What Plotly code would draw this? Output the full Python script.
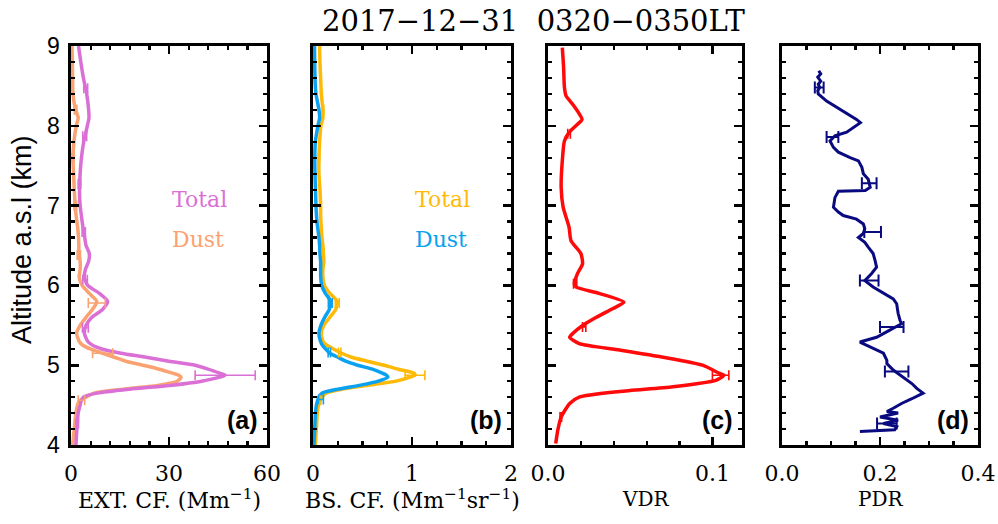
import plotly.graph_objects as go

W, H = 998, 524

# ---------------- data ----------------
alt_ab = [4.0, 4.2, 4.4, 4.5, 4.55, 4.6, 4.65, 4.7, 4.75, 4.8,
          4.85, 4.875, 4.9, 4.95, 5.0, 5.05, 5.1, 5.15, 5.2, 5.25,
          5.3, 5.4, 5.5, 5.6, 5.7, 5.8, 5.9, 6.0, 6.1, 6.2,
          6.3, 6.4, 6.5, 6.6, 6.7, 6.8, 6.9, 7.0, 7.2, 7.4,
          7.6, 7.8, 8.0, 8.1, 8.2, 8.4, 8.6, 8.8, 9.0]
ext_total = [1.5, 1.8, 2.2, 2.8, 3.1, 3.8, 8.0, 18.0, 31.0, 40.0,
             45.5, 47.2, 45.5, 42.0, 38.0, 30.0, 23.0, 15.3, 9.7, 6.6,
             5.1, 4.1, 4.6, 6.4, 9.7, 11.2, 8.7, 5.1, 4.1, 4.4,
             5.4, 5.6, 4.6, 4.2, 3.8, 3.4, 3.1, 2.8, 2.6, 2.8,
             3.2, 3.9, 5.0, 5.5, 5.4, 4.8, 3.8, 3.0, 2.3]
ext_dust = [0.5, 1.0, 1.5, 2.0, 2.5, 4.6, 7.0, 16.0, 27.0, 32.5,
            33.7, 33.0, 31.1, 27.0, 22.0, 16.8, 13.3, 9.7, 6.1, 3.6,
            2.5, 1.7, 2.8, 4.6, 6.6, 7.9, 5.6, 3.4, 2.5, 2.8,
            2.8, 2.4, 2.4, 2.3, 2.1, 1.8, 1.5, 1.3, 1.0, 0.8,
            0.6, 0.9, 1.6, 2.2, 1.4, 0.6, 0.5, 0.4, 0.3]
bs_total = [0.024, 0.034, 0.044, 0.055, 0.067, 0.09, 0.13, 0.3, 0.56, 0.84,
            0.98, 1.03, 1.02, 0.86, 0.72, 0.55, 0.39, 0.29, 0.21, 0.14,
            0.1, 0.084, 0.11, 0.17, 0.23, 0.245, 0.17, 0.115, 0.1, 0.1,
            0.11, 0.105, 0.1, 0.09, 0.085, 0.08, 0.077, 0.077, 0.07, 0.06,
            0.06, 0.067, 0.08, 0.1, 0.1, 0.084, 0.077, 0.07, 0.067]
bs_dust = [0.01, 0.017, 0.025, 0.034, 0.045, 0.06, 0.09, 0.25, 0.48, 0.66,
           0.757, 0.74, 0.7, 0.6, 0.45, 0.33, 0.25, 0.17, 0.13, 0.095,
           0.075, 0.06, 0.08, 0.118, 0.165, 0.18, 0.125, 0.088, 0.078, 0.077,
           0.077, 0.07, 0.067, 0.06, 0.05, 0.04, 0.034, 0.03, 0.025, 0.02,
           0.018, 0.024, 0.05, 0.067, 0.06, 0.03, 0.02, 0.017, 0.015]

alt_vdr = [4.02, 4.19, 4.35, 4.52, 4.60, 4.67, 4.73, 4.81, 4.875, 4.90,
           5.0, 5.10, 5.19, 5.27, 5.35, 5.40, 5.50, 5.60, 5.71, 5.79,
           5.90, 5.98, 6.02, 6.15, 6.27, 6.40, 6.56, 6.73, 6.98, 7.23,
           7.56, 7.81, 7.92, 8.02, 8.08, 8.15, 8.27, 8.375, 8.48, 8.73, 8.98]
vdr = [0.0047, 0.006, 0.008, 0.0132, 0.019, 0.0436, 0.076, 0.102, 0.107, 0.104,
       0.094, 0.07, 0.0436, 0.019, 0.0132, 0.0152, 0.0213, 0.0294, 0.0395, 0.0462,
       0.031, 0.017, 0.016, 0.018, 0.021, 0.020, 0.014, 0.0128, 0.0092, 0.008,
       0.0087, 0.01, 0.013, 0.018, 0.0207, 0.019, 0.015, 0.011, 0.01, 0.0095, 0.0087]

alt_pdr = [8.69, 8.65, 8.61, 8.56, 8.52, 8.48, 8.44, 8.40, 8.31, 8.21,
           8.15, 8.08, 8.04, 7.98, 7.92, 7.875, 7.81, 7.73, 7.67, 7.60,
           7.56, 7.48, 7.40, 7.33, 7.23, 7.19, 7.18, 7.10, 6.98, 6.92,
           6.875, 6.83, 6.77, 6.71, 6.65, 6.60, 6.54, 6.48, 6.40, 6.31,
           6.23, 6.15, 6.06, 5.98, 5.90, 5.83, 5.77, 5.65, 5.56, 5.52,
           5.44, 5.35, 5.29, 5.23, 5.15, 5.06, 5.02, 4.94, 4.85, 4.77,
           4.71, 4.65, 4.58, 4.52, 4.46, 4.42, 4.40, 4.35, 4.31, 4.27,
           4.23, 4.19, 4.17]
pdr = [0.075, 0.079, 0.073, 0.079, 0.074, 0.077, 0.073, 0.074, 0.091, 0.118,
       0.135, 0.152, 0.16, 0.146, 0.132, 0.108, 0.098, 0.105, 0.115, 0.139,
       0.156, 0.163, 0.166, 0.176, 0.18, 0.17, 0.115, 0.108, 0.105, 0.115,
       0.125, 0.152, 0.166, 0.169, 0.166, 0.156, 0.169, 0.176, 0.186, 0.19,
       0.193, 0.183, 0.169, 0.186, 0.207, 0.227, 0.234, 0.237, 0.241, 0.244,
       0.22, 0.193, 0.159, 0.18, 0.207, 0.214, 0.214, 0.227, 0.248, 0.265,
       0.275, 0.288, 0.265, 0.244, 0.227, 0.214, 0.237, 0.2, 0.237, 0.207,
       0.234, 0.23, 0.159]

# error bars (altitude, value, error)
eb_ext_total_alt = [4.27, 4.875, 5.47, 6.07, 6.67, 7.27, 7.87, 8.47]
eb_ext_total_val = [1.9, 47.2, 4.4, 4.3, 3.9, 2.6, 4.2, 4.5]
eb_ext_total_err = [0.4, 9.2, 0.9, 0.7, 0.5, 0.4, 0.6, 0.6]
eb_ext_dust_alt = [4.56, 5.15, 5.78, 6.38, 7.0, 7.6, 8.2]
eb_ext_dust_val = [3.2, 9.7, 7.9, 2.4, 1.3, 0.6, 1.4]
eb_ext_dust_err = [1.0, 3.1, 2.6, 0.5, 0.4, 0.3, 0.4]
eb_bs_total_alt = [4.56, 4.875, 5.16, 5.78, 6.4, 7.0, 7.6, 8.2]
eb_bs_total_val = [0.07, 1.03, 0.27, 0.245, 0.105, 0.077, 0.06, 0.1]
eb_bs_total_err = [0.01, 0.1, 0.012, 0.02, 0.008, 0.006, 0.006, 0.008]
eb_bs_dust_alt = [4.57, 5.16, 5.78]
eb_bs_dust_val = [0.08, 0.165, 0.175]
eb_bs_dust_err = [0.025, 0.012, 0.02]
eb_vdr_alt = [4.35, 4.875, 5.48, 6.02, 7.9]
eb_vdr_val = [0.0078, 0.105, 0.022, 0.0165, 0.0128]
eb_vdr_err = [0.0005, 0.005, 0.001, 0.001, 0.0008]
eb_pdr_alt = [8.48, 7.86, 7.28, 6.67, 6.06, 5.48, 4.92, 4.27]
eb_pdr_val = [0.076, 0.103, 0.178, 0.185, 0.178, 0.224, 0.234, 0.214]
eb_pdr_err = [0.009, 0.012, 0.015, 0.017, 0.019, 0.024, 0.024, 0.02]

# axes definitions
xt_a = [0, 30, 60]
xt_b = [0, 1, 2]
xt_c = [0.0, 0.1]
xt_c_txt = ["0.0", "0.1"]
xt_d = [0.0, 0.2, 0.4]
xt_d_txt = ["0.0", "0.2", "0.4"]
yt = [4, 5, 6, 7, 8, 9]

title_txt = "2017\u221212\u221231\u00a0\u00a00320\u22120350LT"
xtitles = ["EXT. CF. (Mm<sup>\u22121</sup>)",
           "BS. CF. (Mm<sup>\u22121</sup>sr<sup>\u22121</sup>)", "VDR", "PDR"]
xtitle_sizes = [22, 22, 20, 20]
panel_tags = ["(a)", "(b)", "(c)", "(d)"]
ytitle = "Altitude a.s.l (km)"

C_ORCHID = "#DA70D6"
C_SALMON = "#FBA272"
C_GOLD = "#FFBA08"
C_BLUE = "#0AA2F0"
C_RED = "#FF0A0A"
C_NAVY = "#0A0A80"

# ---------------- layout geometry (px) ----------------
panels_px = [(71, 267), (313, 511), (548, 742), (782, 978)]
ytop, ybot = 46, 445


def fx(p):
    return p / W


def fy(p):
    return 1 - p / H


fig = go.Figure()


def line(x, y, col, axis, width=3.5, shape="spline"):
    fig.add_trace(go.Scatter(x=x, y=y, mode="lines",
                             line=dict(color=col, width=width, shape=shape, smoothing=0.6),
                             xaxis="x" + axis, yaxis="y" + axis, showlegend=False,
                             hoverinfo="skip"))


def ebar(a, v, e, col, axis, th=1.6, w=5):
    fig.add_trace(go.Scatter(x=v, y=a, mode="markers",
                             marker=dict(size=1, color="rgba(0,0,0,0)"),
                             error_x=dict(type="data", array=e, color=col, thickness=th, width=w),
                             xaxis="x" + axis, yaxis="y" + axis, showlegend=False,
                             hoverinfo="skip"))


line(ext_dust, alt_ab, C_SALMON, "")
line(ext_total, alt_ab, C_ORCHID, "")
ebar(eb_ext_dust_alt, eb_ext_dust_val, eb_ext_dust_err, C_SALMON, "")
ebar(eb_ext_total_alt, eb_ext_total_val, eb_ext_total_err, C_ORCHID, "")

line(bs_total, alt_ab, C_GOLD, "2")
line(bs_dust, alt_ab, C_BLUE, "2")
ebar(eb_bs_total_alt, eb_bs_total_val, eb_bs_total_err, C_GOLD, "2")
ebar(eb_bs_dust_alt, eb_bs_dust_val, eb_bs_dust_err, C_BLUE, "2")

line(vdr, alt_vdr, C_RED, "3")
ebar(eb_vdr_alt, eb_vdr_val, eb_vdr_err, C_RED, "3")

line(pdr, alt_pdr, C_NAVY, "4", width=3.0, shape="linear")
ebar(eb_pdr_alt, eb_pdr_val, eb_pdr_err, C_NAVY, "4", th=2, w=6)

serif = "DejaVu Serif"
sans = "Liberation Sans, Arial, Helvetica, sans-serif"

common = dict(showline=True, linecolor="black", linewidth=2.6, mirror="allticks",
              ticks="inside", ticklen=8, tickwidth=2.6, tickcolor="black",
              showgrid=False, zeroline=False, automargin=False)

xcfg = [
    dict(range=[0, 60], tickvals=xt_a, ticktext=[str(v) for v in xt_a], minor_dtick=6),
    dict(range=[0, 2], tickvals=xt_b, ticktext=[str(v) for v in xt_b], minor_dtick=0.25),
    dict(range=[0, 0.118], tickvals=xt_c, ticktext=xt_c_txt, minor_dtick=0.02),
    dict(range=[0, 0.4], tickvals=xt_d, ticktext=xt_d_txt, minor_dtick=0.05),
]

layout = dict(width=W, height=H, margin=dict(l=0, r=0, t=0, b=0, autoexpand=False),
              paper_bgcolor="white", plot_bgcolor="white", showlegend=False)

for i, ((x0, x1), cfg) in enumerate(zip(panels_px, xcfg)):
    sfx = "" if i == 0 else str(i + 1)
    xa = dict(common)
    xa.update(domain=[fx(x0), fx(x1)], range=cfg["range"], tickmode="array",
              tickvals=cfg["tickvals"], ticktext=cfg["ticktext"],
              tickfont=dict(family=serif, size=22, color="black"),
              ticklabelstandoff=7,
              minor=dict(dtick=cfg["minor_dtick"], tick0=0, ticks="inside", ticklen=4,
                         tickwidth=2.2, tickcolor="black", showgrid=False),
              anchor="y" + sfx)
    ya = dict(common)
    ya.update(domain=[fy(ybot), fy(ytop)], range=[4, 9], tickmode="array",
              tickvals=yt, ticktext=[str(v) for v in yt],
              showticklabels=(i == 0),
              tickfont=dict(family=sans, size=23, color="black"),
              ticklabelstandoff=4,
              minor=dict(dtick=0.2, tick0=4, ticks="inside", ticklen=4,
                         tickwidth=2.2, tickcolor="black", showgrid=False),
              anchor="x" + sfx)
    layout["xaxis" + sfx] = xa
    layout["yaxis" + sfx] = ya

fig.update_layout(**layout)

ann = []
ann.append(dict(text=title_txt, x=fx(533), y=fy(21), xref="paper", yref="paper",
                showarrow=False, xanchor="center", yanchor="middle",
                font=dict(family=serif, size=29, color="black")))
ann.append(dict(text=ytitle, x=fx(22), y=fy(240), xref="paper", yref="paper",
                showarrow=False, textangle=-90, xanchor="center", yanchor="middle",
                font=dict(family=sans, size=27, color="black")))
for (x0, x1), t, s in zip(panels_px, xtitles, xtitle_sizes):
    ann.append(dict(text=t, x=fx((x0 + x1) / 2), y=fy(499), xref="paper", yref="paper",
                    showarrow=False, xanchor="center", yanchor="middle",
                    font=dict(family=serif, size=s, color="black")))
for (x0, x1), t in zip(panels_px, panel_tags):
    ann.append(dict(text="<b>" + t + "</b>", x=fx(x1 - 7), y=fy(420), xref="paper", yref="paper",
                    showarrow=False, xanchor="right", yanchor="middle",
                    font=dict(family=sans, size=25, color="black")))
legend_items = [("Total", 170, 200, C_ORCHID), ("Dust", 170, 239, C_SALMON),
                ("Total", 413, 200, C_GOLD), ("Dust", 413, 239, C_BLUE)]
for t, xx, yy, c in legend_items:
    ann.append(dict(text=t, x=fx(xx), y=fy(yy), xref="paper", yref="paper",
                    showarrow=False, xanchor="left", yanchor="middle",
                    font=dict(family=serif, size=22, color=c)))
fig.update_layout(annotations=ann)

fig.write_html("out.html",
               config={"displayModeBar": False, "staticPlot": True},
               post_script="document.body.style.margin='0px';document.body.style.padding='0px';")
